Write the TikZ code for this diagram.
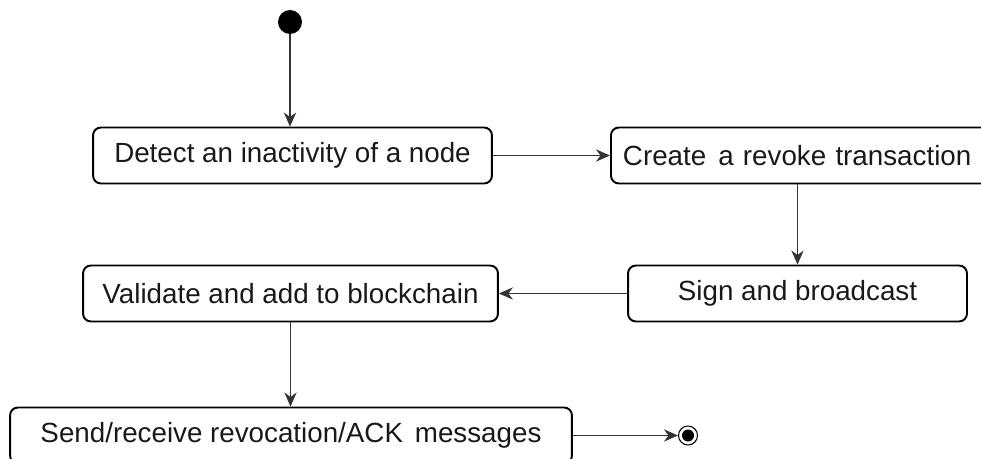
\documentclass[tikz,border=0pt]{standalone}
\usepackage{fontspec}
\setmainfont{Liberation Sans}
\usetikzlibrary{arrows.meta,positioning}

\tikzset{
  state/.style={draw,line width=1.1pt,rounded corners=4.5pt,minimum height=1.12cm,
    inner sep=0pt,font=\fontsize{15.8pt}{19pt}\selectfont,text=black!90},
  initial/.style={circle,fill=black,minimum size=0.48cm,inner sep=0pt},
  final/.style={circle,draw,line width=0.6pt,minimum size=0.38cm,inner sep=0pt,
    path picture={\fill (path picture bounding box.center) circle (0.12cm);}},
  flow/.style={-{Stealth[length=8pt,width=7pt]},line width=0.6pt,black!80}
}

\begin{document}
\begin{tikzpicture}[x=0.02cm,y=-0.02cm]
  \useasboundingbox (0,0) rectangle (981,459);
  \clip (0,0) rectangle (981,459);
  % states
  \node[initial] (start) at (290,22) {};
  \node[state,minimum width=7.98cm] (detect) at (292.5,155.5) {Detect an inactivity of a node};
  \node[state,anchor=west,text width=7.4cm,align=left,inner xsep=0.24cm] (create) at (610,155.5)
    {Create\hspace{0.1em} a revoke transaction};
  \node[state,minimum width=6.78cm] (sign) at (797.5,293.5) {Sign and broadcast};
  \node[state,minimum width=8.3cm] (validate) at (290.5,293.5) {Validate and add to blockchain};
  \node[state,minimum width=11.24cm] (send) at (291,435.5) {Send/receive revocation/ACK\hspace{0.15em} messages};
  \node[final] (stop) at (688,435.5) {};
  % transitions
  \draw[flow] (start) -- (start |- detect.north);
  \draw[flow] (detect) -- (create);
  \draw[flow] (create.south -| sign.north) -- (sign.north);
  \draw[flow] (sign) -- (validate);
  \draw[flow] (validate) -- (validate |- send.north);
  \draw[flow] (send) -- (stop);
\end{tikzpicture}
\end{document}
